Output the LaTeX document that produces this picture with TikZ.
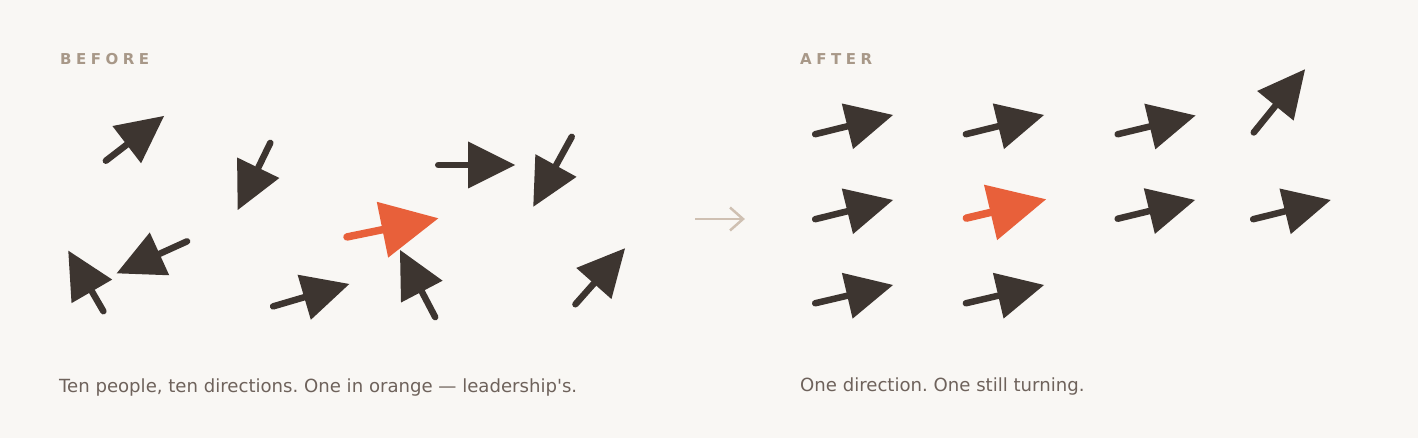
\documentclass[tikz,border=0pt]{standalone}
\usepackage{fontspec}
\setmainfont{DejaVu Sans}
\newfontfamily\titlefont[LetterSpace=30]{DejaVu Sans}
\usetikzlibrary{calc}
\definecolor{bg}{HTML}{F9F7F4}
\definecolor{ink}{HTML}{3D3530}
\definecolor{lead}{HTML}{E8603A}
\definecolor{ttl}{HTML}{A89888}
\definecolor{capc}{HTML}{6E625B}
\definecolor{midc}{HTML}{CFC0B2}
% #1 name prefix, #2 colour, #3 head size, #4 shaft width
\newcommand{\pArrow}[4]{%
  \coordinate (#1-back) at ($(#1-tip)!#3!(#1-tail)$);
  \draw[#2, line width=#4, line cap=round] ($(#1-tail)!#4/2!(#1-tip)$) -- (#1-back);
  \fill[#2] (#1-tip) -- ($(#1-back)!#3/2!90:(#1-tip)$) -- ($(#1-back)!#3/2!-90:(#1-tip)$) -- cycle;
}
\newcommand{\inkArrow}[1]{\pArrow{#1}{ink}{47pt}{6.5pt}}
\newcommand{\leadArrow}[1]{\pArrow{#1}{lead}{57pt}{7.5pt}}
\begin{document}
\frenchspacing
\begin{tikzpicture}[x=1pt,y=-1pt,
  ttlstyle/.style={anchor=base west, inner sep=0pt, text=ttl, font=\titlefont\bfseries\fontsize{15}{17}\selectfont},
  capstyle/.style={anchor=base west, inner sep=0pt, text=capc, font=\fontsize{18.1}{21}\selectfont}]
\fill[bg] (0,0) rectangle (1418,438);
\useasboundingbox (0,0) rectangle (1418,438);

\node[ttlstyle] (tbefore) at (60,65) {BEFORE};
\node[ttlstyle] (tafter) at (800,65) {AFTER};
\node[capstyle] (cbefore) at (59,392) {Ten people, ten directions. One in orange — leadership\textquotesingle s.};
\node[capstyle] (cafter) at (800,391) {One direction. One still turning.};

% BEFORE
\coordinate (b1-tail) at (103.3,162.7); \coordinate (b1-tip) at (164,116);
\coordinate (b2-tail) at (271.7,140);   \coordinate (b2-tip) at (237.7,210);
\coordinate (b3-tail) at (435,165);     \coordinate (b3-tip) at (515,165);
\coordinate (b4-tail) at (573.3,134);   \coordinate (b4-tip) at (533.3,206.7);
\coordinate (b5-tail) at (343.3,237.7); \coordinate (b5-tip) at (438.3,218.3);
\coordinate (b6-tail) at (436.7,320);   \coordinate (b6-tip) at (400,250);
\coordinate (b7-tail) at (573.3,306.7); \coordinate (b7-tip) at (625,248.3);
\coordinate (b8-tail) at (105,314);     \coordinate (b8-tip) at (68.3,250.7);
\coordinate (b9-tail) at (190,240);     \coordinate (b9-tip) at (116.7,273.3);
\coordinate (b10-tail) at (270,307.3);  \coordinate (b10-tip) at (349.3,284);
\foreach \n in {b1,b2,b3,b4,b6,b7,b8,b9,b10} {\inkArrow{\n}}
\leadArrow{b5}

% middle arrow
\coordinate (m-tail) at (695,219); \coordinate (m-tip) at (743,219);
\draw[midc, line width=2.5pt] (m-tail) -- (m-tip);
\draw[midc, line width=2.5pt, line join=miter] ($(m-tip)+(-13,-11.5)$) -- (m-tip) -- ($(m-tip)+(-13,11.5)$);

% AFTER
\coordinate (a11-tail) at (812,135);    \coordinate (a11-tip) at (893,115);
\coordinate (a12-tail) at (962.7,135);  \coordinate (a12-tip) at (1044,115);
\coordinate (a13-tail) at (1114.5,135); \coordinate (a13-tip) at (1195.5,115.5);
\coordinate (a14-tail) at (1251.7,135); \coordinate (a14-tip) at (1305,69.3);
\coordinate (a21-tail) at (812,220);    \coordinate (a21-tip) at (893,200);
\coordinate (a22-tail) at (962.7,219);  \coordinate (a22-tip) at (1046,199.3);
\coordinate (a23-tail) at (1114.5,219.5); \coordinate (a23-tip) at (1195,200);
\coordinate (a24-tail) at (1250,220);   \coordinate (a24-tip) at (1330.7,200);
\coordinate (a31-tail) at (812,304);    \coordinate (a31-tip) at (893,285);
\coordinate (a32-tail) at (962.7,304);  \coordinate (a32-tip) at (1044,285);
\foreach \n in {a11,a12,a13,a14,a21,a23,a24,a31,a32} {\inkArrow{\n}}
\leadArrow{a22}
\end{tikzpicture}
\end{document}
